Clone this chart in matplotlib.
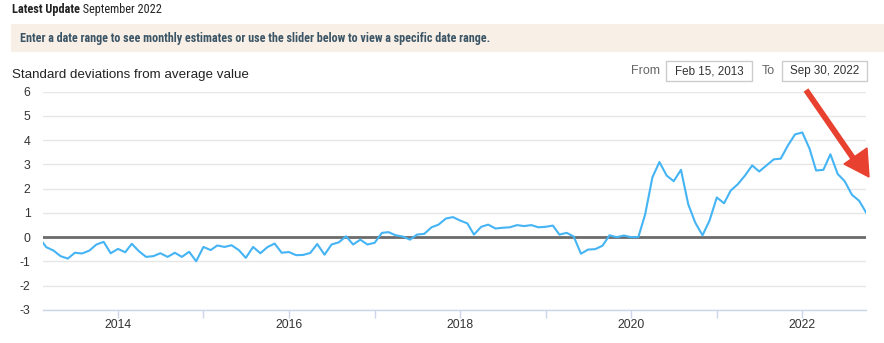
import matplotlib
matplotlib.use("Agg")
import matplotlib.pyplot as plt
from matplotlib.patches import Rectangle, Polygon
from matplotlib import font_manager
import pandas as pd

# ---- data (monthly, first of month, Feb 2013 .. Oct 2022) ----
values = [
    -0.05, -0.41, -0.55, -0.78, -0.88, -0.64, -0.67, -0.55, -0.30, -0.19, -0.66,   # 2013 Feb-Dec
    -0.48, -0.62, -0.27, -0.58, -0.81, -0.78, -0.66, -0.81, -0.64, -0.81, -0.60, -0.99,  # 2014
    -0.40, -0.53, -0.34, -0.40, -0.33, -0.53, -0.85, -0.40, -0.66, -0.41, -0.26, -0.64,  # 2015
    -0.61, -0.74, -0.73, -0.65, -0.28, -0.72, -0.30, -0.21, 0.04, -0.30, -0.10, -0.30,   # 2016
    -0.23, 0.18, 0.21, 0.08, 0.03, -0.10, 0.11, 0.14, 0.41, 0.52, 0.77, 0.83,           # 2017
    0.69, 0.57, 0.11, 0.43, 0.52, 0.36, 0.39, 0.41, 0.50, 0.46, 0.50, 0.41,             # 2018
    0.43, 0.48, 0.11, 0.18, 0.03, -0.68, -0.51, -0.49, -0.35, 0.08, 0.00, 0.07,         # 2019
    0.00, 0.01, 0.94, 2.47, 3.10, 2.54, 2.31, 2.78, 1.36, 0.60, 0.08, 0.69,             # 2020
    1.64, 1.40, 1.92, 2.19, 2.54, 2.96, 2.71, 2.96, 3.21, 3.24, 3.79, 4.24,             # 2021
    4.32, 3.65, 2.75, 2.78, 3.42, 2.61, 2.31, 1.75, 1.50, 1.01,                         # 2022 Jan-Oct
]
dates = pd.date_range("2013-02-01", periods=len(values), freq="MS")
y_ticks = [-3, -2, -1, 0, 1, 2, 3, 4, 5, 6]
x_major_years = [2014, 2016, 2018, 2020, 2022]
x_minor_years = [2015, 2017, 2019, 2021]
range_from = "Feb 15, 2013"
range_to = "Sep 30, 2022"
title_bold = "Latest Update"
title_rest = " September 2022"
banner_text = "Enter a date range to see monthly estimates or use the slider below to view a specific date range."
y_title = "Standard deviations from average value"

W, H = 884, 343
fig = plt.figure(figsize=(W / 100, H / 100), dpi=100)
fig.patch.set_facecolor("white")

def fx(px):
    return px / W

def fy(py):
    return 1 - py / H

installed = {f.name for f in font_manager.fontManager.ttflist}
narrow_family = "Roboto"
for p in ["Roboto Condensed", "Liberation Sans Narrow", "Open Sans Condensed",
          "Noto Sans Condensed", "DejaVu Sans Condensed"]:
    if p in installed:
        narrow_family = p
        break
narrow = [narrow_family, "DejaVu Sans"]
arial = ["Liberation Sans", "DejaVu Sans"]

def fit_text(x, y, s, width_px, family, weight="normal", size=9.2, color="#222222"):
    t = fig.text(fx(x), fy(y), s, family=family, weight=weight, fontsize=size,
                 color=color, va="center", ha="left")
    fig.canvas.draw()
    w = t.get_window_extent().width
    if w > 0:
        t.set_fontsize(min(size, size * width_px / w))
    return t

# header
t1 = fit_text(12, 10, title_bold, 68, narrow, weight="bold", size=9.0)
fig.canvas.draw()
bb = t1.get_window_extent()
fig.text(bb.x1 / W, fy(10), title_rest, family=narrow, fontsize=t1.get_fontsize(),
         color="#222222", va="center", ha="left")

# banner
fig.patches.append(Rectangle((fx(11), fy(52)), fx(W) - fx(11), fy(24) - fy(52),
                             transform=fig.transFigure, facecolor="#f8f0e7",
                             edgecolor="none", zorder=0))
fit_text(20.5, 38.5, banner_text, 470, narrow, weight="bold", size=9.0, color="#3b5566")

# y axis title
fig.text(fx(12.5), fy(75), y_title, family=arial, fontsize=9.6, color="#222222",
         va="center", ha="left")

# date range inputs
fig.text(fx(646), fy(71), "From", family=arial, fontsize=9.0, color="#666666",
         va="center", ha="center")
fig.text(fx(768), fy(71), "To", family=arial, fontsize=9.0, color="#666666",
         va="center", ha="center")
for (x0, x1, label) in [(666, 752, range_from), (782, 867, range_to)]:
    fig.patches.append(Rectangle((fx(x0), fy(81)), fx(x1) - fx(x0), fy(61) - fy(81),
                                 transform=fig.transFigure, facecolor="white",
                                 edgecolor="#cccccc", linewidth=1.0, zorder=1))
    fig.text(fx((x0 + x1) / 2), fy(71), label, family=arial, fontsize=8.4,
             color="#333333", va="center", ha="center")

# axes
left, right, top, bottom = 43, 866, 91.7, 310
ax = fig.add_axes([fx(left), fy(bottom), fx(right) - fx(left), fy(top) - fy(bottom)])
ax.set_facecolor("white")
ax.plot(dates, values, color="#45b4f4", linewidth=1.5, zorder=3, clip_on=True)
ax.axhline(0, color="#6b6b6b", linewidth=2.0, zorder=2)

ax.set_xlim(pd.Timestamp("2013-02-15"), pd.Timestamp("2022-09-30"))
ax.set_ylim(-3, 6)
ax.set_yticks(y_ticks)
ax.set_yticklabels([str(v) for v in y_ticks])
ax.grid(axis="y", color="#e6e6e6", linewidth=1.0, zorder=0)
ax.set_xticks([pd.Timestamp(f"{y}-01-01") for y in x_major_years])
ax.set_xticklabels([str(y) for y in x_major_years])
ax.set_xticks([pd.Timestamp(f"{y}-01-01") for y in x_minor_years], minor=True)

for s in ["top", "right", "left"]:
    ax.spines[s].set_visible(False)
ax.spines["bottom"].set_color("#ccd6eb")
ax.spines["bottom"].set_linewidth(1.0)
ax.spines["bottom"].set_zorder(4)

ax.tick_params(axis="y", length=0, pad=9, labelsize=8.8, labelcolor="#333333")
for lab in ax.get_yticklabels():
    lab.set_family(arial)
ax.tick_params(axis="x", which="major", length=5.8, width=1, color="#ccd6eb", pad=1.0,
               labelsize=8.8, labelcolor="#333333")
ax.tick_params(axis="x", which="minor", length=5.8, width=1, color="#ccd6eb")
for lab in ax.get_xticklabels():
    lab.set_family(arial)

# red arrow (annotation overlay)
red = "#e8412f"
fig.lines.append(plt.Line2D([fx(806), fx(853)], [fy(90), fy(158)], transform=fig.transFigure,
                            color=red, linewidth=4.2, solid_capstyle="butt", zorder=10))
fig.patches.append(Polygon([(fx(844), fy(164)), (fx(867), fy(148)), (fx(869), fy(177))],
                           closed=True, transform=fig.transFigure, facecolor=red,
                           edgecolor=red, zorder=10))

fig.savefig("out.png", dpi=100, facecolor="white")
